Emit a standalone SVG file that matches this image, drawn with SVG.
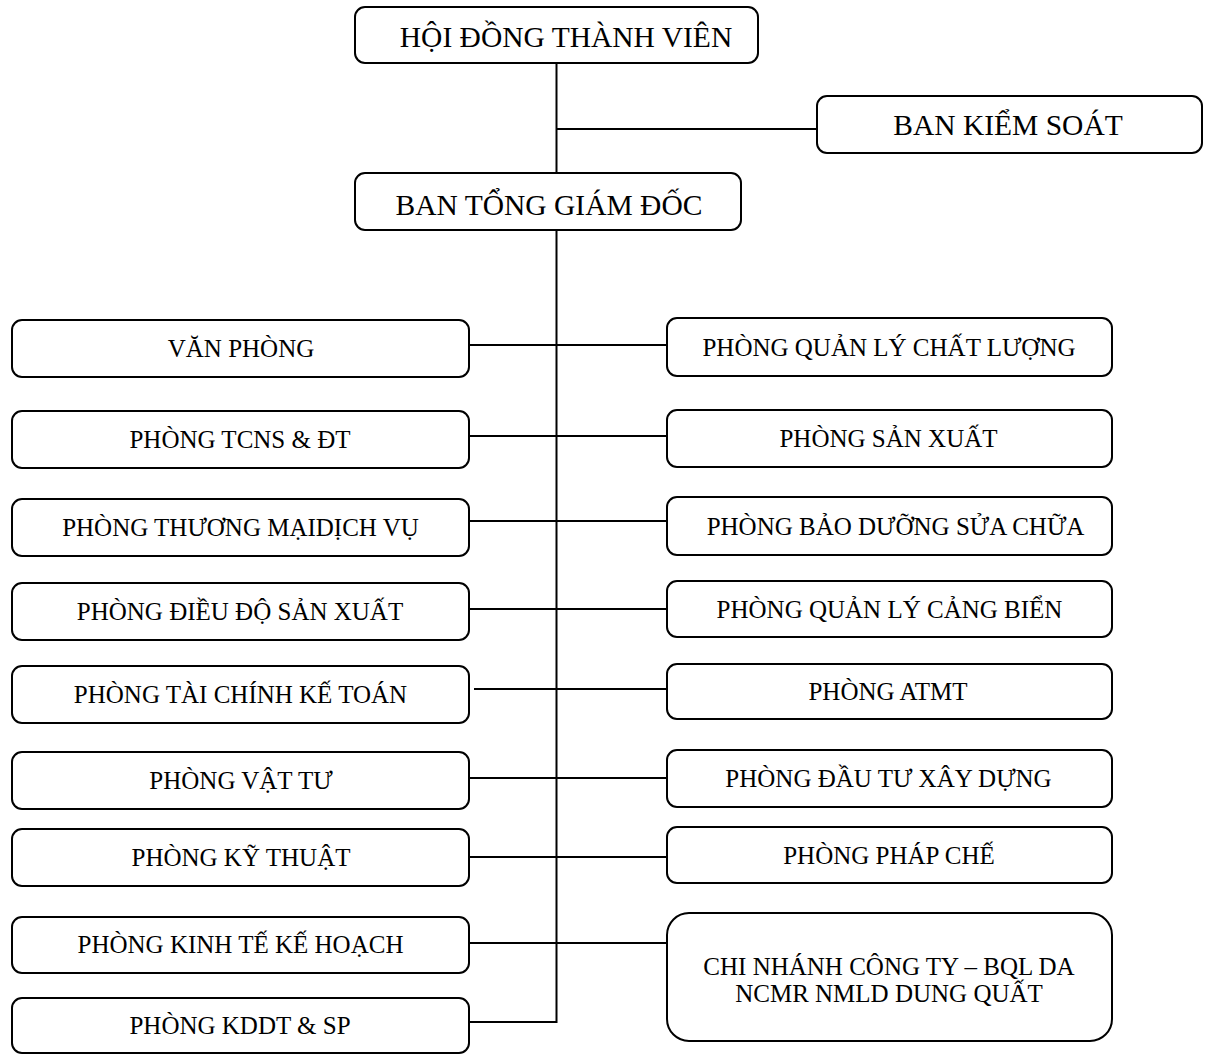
<svg xmlns="http://www.w3.org/2000/svg" width="1207" height="1055" viewBox="0 0 1207 1055">
<style>
.box{fill:#fff;stroke:#000;stroke-width:2}
.t{font-family:"Liberation Serif","Times New Roman",serif;fill:#000;text-anchor:middle}
.big{font-size:29.5px}
.sm{font-size:25px}
.c{stroke:#000;stroke-width:2;fill:none}
</style>
<rect width="1207" height="1055" fill="#fff"/>
<g id="connectors">
<line class="c" x1="556.5" y1="63" x2="556.5" y2="173"/>
<line class="c" x1="556.5" y1="129" x2="817" y2="129"/>
<polyline class="c" points="556.5,230 556.5,1022 469,1022"/>
<line class="c" x1="469" y1="345" x2="667" y2="345"/>
<line class="c" x1="469" y1="436" x2="667" y2="436"/>
<line class="c" x1="469" y1="521" x2="667" y2="521"/>
<line class="c" x1="469" y1="609" x2="667" y2="609"/>
<line class="c" x1="474" y1="689" x2="667" y2="689"/>
<line class="c" x1="469" y1="778" x2="667" y2="778"/>
<line class="c" x1="469" y1="857" x2="667" y2="857"/>
<line class="c" x1="469" y1="943" x2="667" y2="943"/>
</g>
<g id="hdtv"><rect class="box" x="355" y="7" width="403" height="56" rx="10"/><text class="t big" x="566" y="47">HỘI ĐỒNG THÀNH VIÊN</text></g>
<g id="bks"><rect class="box" x="817" y="96" width="385" height="57" rx="10"/><text class="t big" x="1008" y="135">BAN KIỂM SOÁT</text></g>
<g id="btgd"><rect class="box" x="355" y="173" width="386" height="57" rx="10"/><text class="t big" x="549" y="215">BAN TỔNG GIÁM ĐỐC</text></g>

<g id="van-phong"><rect class="box" x="12" y="320" width="457" height="57" rx="10"/><text class="t sm" x="241" y="357">VĂN PHÒNG</text></g>
<g id="tcns"><rect class="box" x="12" y="411" width="457" height="57" rx="10"/><text class="t sm" x="240" y="448">PHÒNG TCNS &amp; ĐT</text></g>
<g id="tmdv"><rect class="box" x="12" y="499" width="457" height="57" rx="10"/><text class="t sm" x="240.5" y="536">PHÒNG THƯƠNG MẠIDỊCH VỤ</text></g>
<g id="ddsx"><rect class="box" x="12" y="583" width="457" height="57" rx="10"/><text class="t sm" x="240" y="620">PHÒNG ĐIỀU ĐỘ SẢN XUẤT</text></g>
<g id="tckt"><rect class="box" x="12" y="666" width="457" height="57" rx="10"/><text class="t sm" x="240.5" y="703">PHÒNG TÀI CHÍNH KẾ TOÁN</text></g>
<g id="vattu"><rect class="box" x="12" y="752" width="457" height="57" rx="10"/><text class="t sm" x="241" y="789">PHÒNG VẬT TƯ</text></g>
<g id="kythuat"><rect class="box" x="12" y="829" width="457" height="57" rx="10"/><text class="t sm" x="241" y="866">PHÒNG KỸ THUẬT</text></g>
<g id="ktkh"><rect class="box" x="12" y="917" width="457" height="56" rx="10"/><text class="t sm" x="240.5" y="953">PHÒNG KINH TẾ KẾ HOẠCH</text></g>
<g id="kddt"><rect class="box" x="12" y="998" width="457" height="55" rx="10"/><text class="t sm" x="240" y="1034">PHÒNG KDDT &amp; SP</text></g>

<g id="qlcl"><rect class="box" x="667" y="318" width="445" height="58" rx="10"/><text class="t sm" x="889" y="356">PHÒNG QUẢN LÝ CHẤT LƯỢNG</text></g>
<g id="sanxuat"><rect class="box" x="667" y="410" width="445" height="57" rx="10"/><text class="t sm" x="888.5" y="447">PHÒNG SẢN XUẤT</text></g>
<g id="bdsc"><rect class="box" x="667" y="497" width="445" height="58" rx="10"/><text class="t sm" x="895.5" y="535">PHÒNG BẢO DƯỠNG SỬA CHỮA</text></g>
<g id="qlcb"><rect class="box" x="667" y="581" width="445" height="56" rx="10"/><text class="t sm" x="889.5" y="618">PHÒNG QUẢN LÝ CẢNG BIỂN</text></g>
<g id="atmt"><rect class="box" x="667" y="664" width="445" height="55" rx="10"/><text class="t sm" x="888" y="700">PHÒNG ATMT</text></g>
<g id="dtxd"><rect class="box" x="667" y="750" width="445" height="57" rx="10"/><text class="t sm" x="888.5" y="787">PHÒNG ĐẦU TƯ XÂY DỰNG</text></g>
<g id="phapche"><rect class="box" x="667" y="827" width="445" height="56" rx="10"/><text class="t sm" x="889" y="864">PHÒNG PHÁP CHẾ</text></g>
<g id="chinhanh"><rect class="box" x="667" y="913" width="445" height="128" rx="22"/><text class="t sm" x="889" y="975">CHI NHÁNH CÔNG TY – BQL DA</text><text class="t sm" x="889" y="1002">NCMR NMLD DUNG QUẤT</text></g>
</svg>
